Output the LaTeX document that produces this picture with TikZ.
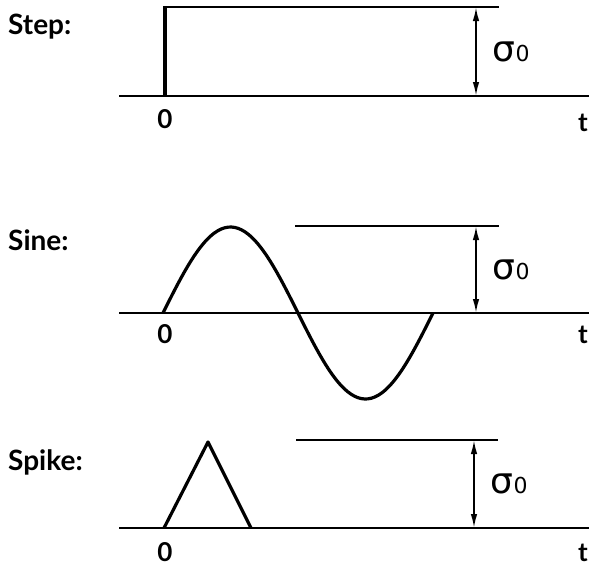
\documentclass[tikz,border=0pt]{standalone}
\usepackage{fontspec}
\setmainfont{Lato}
\newfontfamily\sigmafont{DejaVu Sans}
\usetikzlibrary{arrows.meta}

\begin{document}
\begin{tikzpicture}[
        x=1pt,
        y=-1pt,
        >={Latex[length=14pt,width=6.5pt]},
        % axis (time line)
        axis_line/.style={
            line width=2.2pt
        },
        % applied stress signal
        signal_line/.style={
            line width=3.2pt,
            line join=round
        },
        % sigma_0 reference level
        level_line/.style={
            line width=2.2pt
        },
        % amplitude arrow
        sigma_arrow/.style={
            <->,
            line width=1.8pt
        },
        % texts
        title_text/.style={
            anchor=base west,
            inner sep=0pt,
            font=\fontsize{28}{28}\selectfont\bfseries
        },
        tick_text/.style={
            anchor=base,
            inner sep=0pt,
            font=\fontsize{26}{26}\selectfont\bfseries
        },
        sigma_text/.style={
            anchor=west,
            inner sep=0pt,
            font=\sigmafont\fontsize{36}{36}\selectfont
        }
    ]
    \useasboundingbox (0,0) rectangle (589,566);

    % --- 1. Step ---
    \node (stepTitle) [title_text] at (8,34) {Step:};
    \draw[axis_line] (119,96) -- (589,96);
    \draw[signal_line] (165,96) -- (165,6.5);
    \draw[level_line] (163.4,7) -- (499,7);
    \coordinate (stepTop) at (476,7);
    \coordinate (stepBase) at (476,96);
    \draw[sigma_arrow] (stepTop) -- (stepBase)
        node[midway, sigma_text, xshift=16pt] (stepSigma) {σ\fontsize{22}{22}\selectfont 0};
    \node (stepZero) [tick_text] at (165,128) {0};
    \node (stepT) [tick_text] at (583,131) {t};

    % --- 2. Sine ---
    \node (sineTitle) [title_text] at (8,250) {Sine:};
    \draw[axis_line] (119,313) -- (589,313);
    \draw[signal_line] plot[domain=0:270, samples=80, smooth]
        ({163+\x}, {313-86*sin(\x*4/3)});
    \draw[level_line] (295,226) -- (499,226);
    \coordinate (sineTop) at (476,226);
    \coordinate (sineBase) at (476,313);
    \draw[sigma_arrow] (sineTop) -- (sineBase)
        node[midway, sigma_text, xshift=16pt] (sineSigma) {σ\fontsize{22}{22}\selectfont 0};
    \node (sineZero) [tick_text] at (165,343) {0};
    \node (sineT) [tick_text] at (583,343) {t};

    % --- 3. Spike ---
    \node (spikeTitle) [title_text] at (8,470) {Spike:};
    \draw[axis_line] (119,528) -- (589,528);
    \draw[signal_line] (164,528) -- (208,442) -- (251,528);
    \draw[level_line] (296,440) -- (498,440);
    \coordinate (spikeTop) at (474,440);
    \coordinate (spikeBase) at (474,528);
    \draw[sigma_arrow] (spikeTop) -- (spikeBase)
        node[midway, sigma_text, xshift=16pt] (spikeSigma) {σ\fontsize{22}{22}\selectfont 0};
    \node (spikeZero) [tick_text] at (165,561) {0};
    \node (spikeT) [tick_text] at (583,561) {t};

\end{tikzpicture}
\end{document}
